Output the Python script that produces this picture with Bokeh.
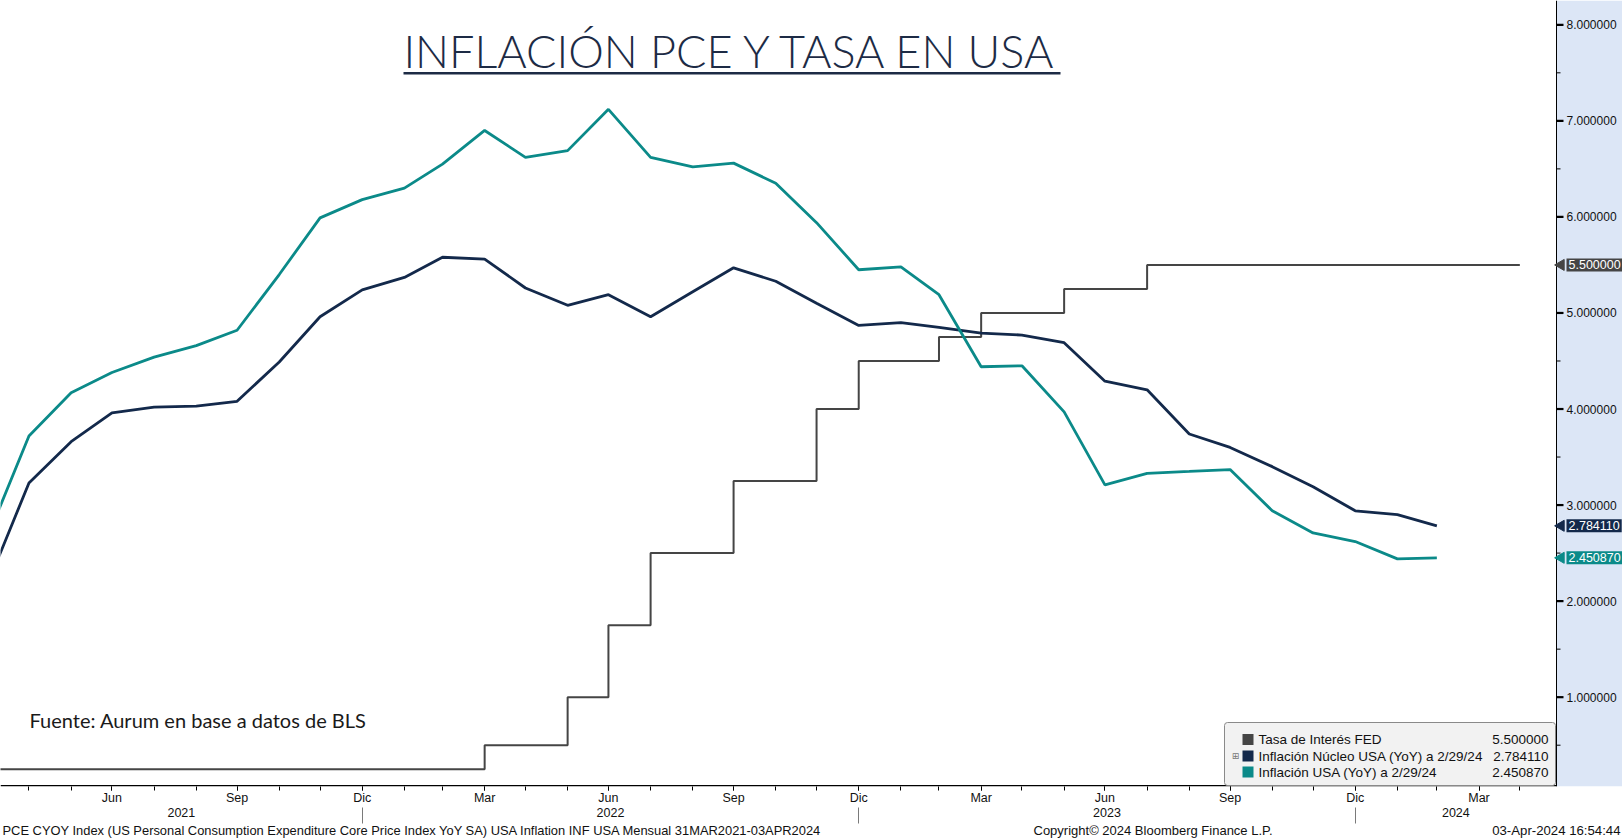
import math
import pandas as pd
from bokeh.plotting import figure
from bokeh.layouts import column
from bokeh.models import Range1d, LinearAxis, FixedTicker, Label, BoxAnnotation
from bokeh.core.properties import value
from bokeh.embed import file_html
from bokeh.resources import INLINE

# ---------------------------------------------------------------- data
# Month-end observations, Mar-2021 .. Feb-2024 (YoY %, PCE)
months = pd.date_range("2021-03-31", "2024-02-29", freq="ME")
pce_headline = [2.68, 3.72, 4.17, 4.38, 4.54, 4.66, 4.82, 5.40, 5.99, 6.18,
                6.30, 6.55, 6.90, 6.62, 6.69, 7.12, 6.62, 6.52, 6.56, 6.35,
                5.94, 5.45, 5.48, 5.19, 4.44, 4.45, 3.97, 3.21, 3.33, 3.35,
                3.37, 2.94, 2.71, 2.62, 2.44, 2.450870]
pce_core = [2.19, 3.23, 3.66, 3.96, 4.02, 4.03, 4.08, 4.49, 4.96, 5.24,
            5.37, 5.58, 5.56, 5.26, 5.08, 5.19, 4.96, 5.22, 5.47, 5.33,
            5.10, 4.87, 4.90, 4.85, 4.79, 4.77, 4.69, 4.29, 4.20, 3.74,
            3.60, 3.40, 3.19, 2.94, 2.90, 2.784110]

# Fed funds target (upper bound), month-end, Mar-2021 .. Apr-2024
fed_months = pd.date_range("2021-03-31", "2024-04-30", freq="ME")
fed_rate = [0.25, 0.25, 0.25, 0.25, 0.25, 0.25, 0.25, 0.25, 0.25, 0.25,
            0.25, 0.25, 0.50, 0.50, 1.00, 1.75, 2.50, 2.50, 3.25, 3.25,
            4.00, 4.50, 4.50, 4.75, 5.00, 5.00, 5.25, 5.25, 5.50, 5.50,
            5.50, 5.50, 5.50, 5.50, 5.50, 5.50, 5.50, 5.50]

# axis labels
month_abbr = {3: "Mar", 6: "Jun", 9: "Sep", 12: "Dic"}
year_labels = ["2021", "2022", "2023", "2024"]
y_ticks = [1, 2, 3, 4, 5, 6, 7, 8]
y_minor_ticks = [0.5, 1.5, 2.5, 3.5, 4.5, 5.5, 6.5, 7.5]

# legend
legend_names = ["Tasa de Interés FED",
                "Inflación Núcleo USA (YoY) a 2/29/24",
                "Inflación USA (YoY) a 2/29/24"]
legend_values = ["5.500000", "2.784110", "2.450870"]
last_values = [5.5, 2.784110, 2.450870]

# ---------------------------------------------------------------- style
TEAL = "#0b8a89"
NAVY = "#13294b"
GREY = "#454545"
TITLE_C = "#1d2b45"
AXIS_BG = "#dce6f6"
UI_FONT = "Liberation Sans"
series_colors = [GREY, NAVY, TEAL]

W, H = 1622, 838
FOOT_H = 14                      # footer strip under the chart
MAIN_H = H - FOOT_H
PLOT_W, PLOT_H = 1556, 786       # data area (left of the value scale)


def ms(ts):
    return pd.Timestamp(ts).value / 1e6


# visible time window of the data area; the frame runs on to the page edge,
# where the value scale is drawn
x_start = pd.Timestamp("2021-04-09 02:00")
x_edge = pd.Timestamp("2024-05-26 23:00")
ms_per_px = (ms(x_edge) - ms(x_start)) / PLOT_W
x_end = ms(x_start) + ms_per_px * W

p = figure(width=W, height=MAIN_H, output_backend="svg", toolbar_location=None,
           x_axis_location=None, y_axis_location=None,
           x_range=Range1d(ms(x_start), x_end), y_range=Range1d(0.07, 8.253),
           min_border_left=0, min_border_top=0, min_border_right=0,
           min_border_bottom=MAIN_H - PLOT_H)
p.outline_line_color = None
p.xgrid.visible = False
p.ygrid.visible = False
p.background_fill_color = "white"
p.border_fill_color = "white"


def screen_box(left, right, bottom, top, **kw):
    return BoxAnnotation(left=left, right=right, bottom=bottom, top=top,
                         left_units="screen", right_units="screen",
                         bottom_units="screen", top_units="screen", **kw)


# value-scale panel and its axis line
p.add_layout(screen_box(PLOT_W, W, 0, PLOT_H, fill_color=AXIS_BG, fill_alpha=1,
                        line_alpha=0, level="underlay"))
p.add_layout(screen_box(PLOT_W - 0.5, PLOT_W + 0.5, 0, PLOT_H, fill_color="black",
                        fill_alpha=1, line_alpha=0, level="underlay"))
# time-axis line (stops at the value scale)
p.add_layout(screen_box(0, PLOT_W, 0, 1.5, fill_color="black", fill_alpha=1,
                        line_alpha=0, level="underlay"))

# ---------------------------------------------------------------- series
p.step(fed_months, fed_rate, mode="after", line_color=GREY, line_width=2)
p.line(months, pce_core, line_color=NAVY, line_width=2.8)
p.line(months, pce_headline, line_color=TEAL, line_width=2.8)

# ---------------------------------------------------------------- value scale
edge = ms(x_edge)
p.ray(x=[edge] * len(y_ticks), y=y_ticks, length=7, length_units="screen",
      angle=0, line_color="black", line_width=2.2)
p.ray(x=[edge] * len(y_minor_ticks), y=y_minor_ticks, length=4,
      length_units="screen", angle=0, line_color="black", line_width=1)
p.text(x=[edge] * len(y_ticks), y=y_ticks, text=[f"{v:.6f}" for v in y_ticks],
       x_offset=10, text_baseline="middle", text_font=value(UI_FONT),
       text_font_size="12px", text_color="#111111")

# last-value flags
p.scatter(x=[edge + 4.5 * ms_per_px] * 3, y=last_values, marker="triangle",
          angle=math.pi / 2, size=11, color=series_colors)
for v, txt, c in zip(last_values, legend_values, series_colors):
    p.add_layout(Label(x=PLOT_W + 10, y=v, x_units="screen", y_units="data",
                       text=txt, text_font=UI_FONT, text_font_size="12.5px",
                       text_color="white", text_baseline="middle",
                       background_fill_color=c, background_fill_alpha=1,
                       padding=2))

# ---------------------------------------------------------------- time axes
month_ends = pd.date_range("2021-03-31", "2024-04-30", freq="ME")
quarter_ends = [d for d in month_ends if d.month in month_abbr]
month_axis = LinearAxis(
    ticker=FixedTicker(ticks=[ms(d) for d in quarter_ends],
                       minor_ticks=[ms(d) for d in month_ends]),
    major_label_overrides={ms(d): month_abbr[d.month] for d in quarter_ends},
    axis_line_color=None,
    major_tick_in=0, major_tick_out=4, major_tick_line_color="black",
    minor_tick_in=0, minor_tick_out=4, minor_tick_line_color="black",
    major_label_standoff=0,
    major_label_text_font=UI_FONT, major_label_text_font_size="12.5px",
    major_label_text_color="#111111",
)
p.add_layout(month_axis, "below")

year_ends = [pd.Timestamp(f"{y}-12-31") for y in year_labels[:-1]]
edges = [x_start] + year_ends + [x_edge]
year_centers = [(ms(a) + ms(b)) / 2 for a, b in zip(edges[:-1], edges[1:])]
year_axis = LinearAxis(
    ticker=FixedTicker(ticks=year_centers, minor_ticks=[ms(d) for d in year_ends]),
    major_label_overrides={c: t for c, t in zip(year_centers, year_labels)},
    axis_line_color=None,
    major_tick_in=0, major_tick_out=0, major_tick_line_color=None,
    minor_tick_in=-16, minor_tick_out=0, minor_tick_line_color="#7a7a7a",
    major_label_standoff=0,
    major_label_text_font=UI_FONT, major_label_text_font_size="12.5px",
    major_label_text_color="#111111",
)
p.add_layout(year_axis, "below")

# ---------------------------------------------------------------- title
p.add_layout(Label(x=731, y=PLOT_H - 50, x_units="screen", y_units="screen",
                   text="INFLACIÓN PCE Y TASA EN USA", text_align="center",
                   text_baseline="alphabetic", text_font="Lato Light",
                   text_font_size="45px", text_color=TITLE_C))
p.add_layout(screen_box(403, 1060, PLOT_H - 74, PLOT_H - 71.5,
                        fill_color=TITLE_C, fill_alpha=1, line_alpha=0))

p.add_layout(Label(x=29, y=PLOT_H - 719, x_units="screen", y_units="screen",
                   text="Fuente: Aurum en base a datos de BLS",
                   text_baseline="middle", text_font="Lato",
                   text_font_size="20px", text_color="#1a1a1a"))

# ---------------------------------------------------------------- legend box
p.add_layout(screen_box(1224, 1555, PLOT_H - 785, PLOT_H - 722,
                        fill_color="#f2f2f2", fill_alpha=1, line_color="#8a8a8a",
                        line_alpha=1, line_width=1, border_radius=3))
row_y = [739, 755.5, 771.5]
for ry, name, val, c in zip(row_y, legend_names, legend_values, series_colors):
    p.add_layout(screen_box(1242, 1253, PLOT_H - ry - 5.5, PLOT_H - ry + 5.5,
                            fill_color=c, fill_alpha=1, line_alpha=0))
    p.add_layout(Label(x=1258, y=PLOT_H - ry, x_units="screen", y_units="screen",
                       text=name, text_baseline="middle", text_font=UI_FONT,
                       text_font_size="13.5px", text_color="#111111"))
    p.add_layout(Label(x=1548, y=PLOT_H - ry, x_units="screen", y_units="screen",
                       text=val, text_align="right", text_baseline="middle",
                       text_font=UI_FONT, text_font_size="13.5px",
                       text_color="#111111"))
p.add_layout(Label(x=1235, y=PLOT_H - row_y[1], x_units="screen", y_units="screen",
                   text="⊞", text_align="center", text_baseline="middle",
                   text_font="DejaVu Sans", text_font_size="9px",
                   text_color="#777777"))

# ---------------------------------------------------------------- footer strip
foot = figure(width=W, height=FOOT_H, output_backend="svg", toolbar_location=None,
              x_axis_location=None, y_axis_location=None,
              x_range=Range1d(0, W), y_range=Range1d(0, FOOT_H), min_border=0)
foot.outline_line_color = None
foot.xgrid.visible = False
foot.ygrid.visible = False
foot_y = FOOT_H - 6
foot.add_layout(Label(x=2, y=foot_y,
                      text="PCE CYOY Index (US Personal Consumption Expenditure Core "
                           "Price Index YoY SA) USA Inflation INF USA  Mensual "
                           "31MAR2021-03APR2024",
                      text_baseline="middle", text_font=UI_FONT,
                      text_font_size="12.9px", text_color="#111111"))
foot.add_layout(Label(x=1033, y=foot_y,
                      text="Copyright© 2024 Bloomberg Finance L.P.",
                      text_baseline="middle", text_font=UI_FONT,
                      text_font_size="13px", text_color="#111111"))
foot.add_layout(Label(x=1620, y=foot_y, text="03-Apr-2024 16:54:44",
                      text_align="right", text_baseline="middle",
                      text_font=UI_FONT, text_font_size="13.2px",
                      text_color="#111111"))

open("out.html", "w").write(file_html(column(p, foot, spacing=0), INLINE))
